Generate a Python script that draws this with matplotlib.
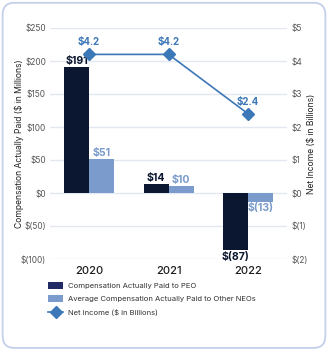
import matplotlib.pyplot as plt
from matplotlib.patches import FancyBboxPatch, Patch
from matplotlib.lines import Line2D
import numpy as np

plt.rcParams["font.family"] = ["Inter", "DejaVu Sans"]

years = ["2020", "2021", "2022"]
peo_cap = [191, 14, -87]
neo_cap = [51, 10, -13]
net_income = [4.2, 4.2, 2.4]

left_ticks = [-100, -50, 0, 50, 100, 150, 200, 250]
left_labels = ["$(100)", "$(50)", "$0", "$50", "$100", "$150", "$200", "$250"]
right_ticks = [-2, -1, 0, 1, 2, 3, 4, 5]
right_labels = ["$(2)", "$(1)", "$0", "$1", "$2", "$3", "$4", "$5"]

NAVY = "#0b1730"
NAVY_LEGEND = "#222a66"
LIGHT = "#7a9bcb"
LINE = "#3c77b8"
GRID = "#e3e8f0"
TICK = "#555555"


def money(v):
    return f"${v}" if v >= 0 else f"$({-v})"


fig = plt.figure(figsize=(3.28, 3.5), dpi=100, facecolor="white")
# rounded card outline behind everything
fig.patches.append(
    FancyBboxPatch((0.008, 0.006), 0.984, 0.986, boxstyle="round,pad=0,rounding_size=0.035",
                   transform=fig.transFigure, facecolor="white", edgecolor="#c2d0ea",
                   linewidth=1.3, figure=fig, zorder=-10)
)

ax = fig.add_axes([0.153, 0.26, 0.722, 0.66])
ax.patch.set_alpha(0)
x = np.arange(len(years))
w = 0.315

ax.bar(x - w / 2, peo_cap, w, color=NAVY, zorder=2)
ax.bar(x + w / 2, neo_cap, w, color=LIGHT, zorder=2)

for xi, v in zip(x, peo_cap):
    off = 1 if v >= 0 else -2
    ax.text(xi - w / 2, v + off, money(v), ha="center", va="bottom" if v >= 0 else "top",
            fontsize=7.6, fontweight="bold", color=NAVY, zorder=5)
for xi, v in zip(x, neo_cap):
    off = 2 if v >= 0 else -2
    ax.text(xi + w / 2, v + off, money(v), ha="center", va="bottom" if v >= 0 else "top",
            fontsize=7.6, fontweight="bold", color=LIGHT)

ax.set_xlim(-0.49, 2.49)
ax.set_ylim(-100, 250)
ax.set_yticks(left_ticks)
ax.set_yticklabels(left_labels)
ax.set_xticks(x)
ax.set_xticklabels(years, fontsize=8, fontweight="medium", color="#1a1a1a")
ax.tick_params(axis="y", length=0, labelsize=6, labelcolor=TICK, pad=3)
ax.tick_params(axis="x", length=0, pad=5)
ax.grid(axis="y", color=GRID, linewidth=1.0, zorder=0)
for s in ax.spines.values():
    s.set_visible(False)
ax.set_ylabel("Compensation Actually Paid ($ in Millions)", fontsize=6.2, color="#222222")
ax.yaxis.set_label_coords(-0.11, 0.5)

ax2 = ax.twinx()
ax2.set_ylim(-2, 5)
ax2.set_yticks(right_ticks)
ax2.set_yticklabels(right_labels)
ax2.tick_params(axis="y", length=0, labelsize=6, labelcolor=TICK, pad=3)
for s in ax2.spines.values():
    s.set_visible(False)
ax2.set_ylabel("Net Income ($ in Billions)", fontsize=6.2, color="#222222")
ax2.yaxis.set_label_coords(1.085, 0.5)
ax2.plot(x, net_income, color=LINE, linewidth=1.2, marker="D", markersize=6, zorder=3)
for xi, v in zip(x, net_income):
    ax2.text(xi, v + 0.22, f"${v}", ha="center", va="bottom", fontsize=7,
             fontweight="bold", color=LINE)

handles = [
    Patch(facecolor=NAVY_LEGEND, label="Compensation Actually Paid to PEO"),
    Patch(facecolor=LIGHT, label="Average Compensation Actually Paid to Other NEOs"),
    Line2D([0], [0], color=LINE, marker="D", markersize=6, linewidth=1.2,
           label="Net Income ($ in Billions)"),
]
fig.legend(handles=handles, loc="upper left", bbox_to_anchor=(0.125, 0.215), frameon=False,
           fontsize=5.5, handlelength=2.0, handleheight=1.1, handletextpad=0.6,
           labelspacing=0.8, labelcolor="#333333")

fig.savefig("out.png", dpi=100)
